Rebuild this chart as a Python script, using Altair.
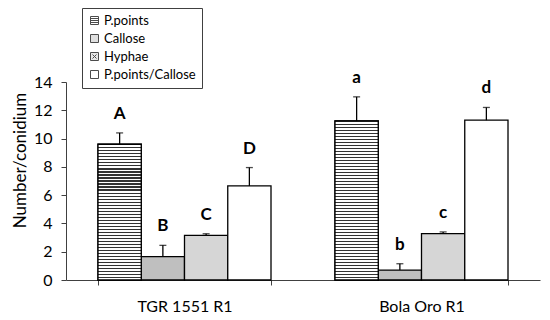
import altair as alt
import pandas as pd

cultivars = ["TGR 1551 R1", "Bola Oro R1"]
series = ["P.points", "Callose", "Hyphae", "P.points/Callose"]
ppoints = [9.6, 11.25]
ppoints_err = [0.8, 1.7]
callose = [1.65, 0.7]
callose_err = [0.8, 0.45]
hyphae = [3.15, 3.28]
hyphae_err = [0.12, 0.12]
ratio = [6.65, 11.3]
ratio_err = [1.3, 0.9]
letters = [["A", "B", "C", "D"], ["a", "b", "c", "d"]]

vals = [ppoints, callose, hyphae, ratio]
errs = [ppoints_err, callose_err, hyphae_err, ratio_err]
rows = []
for ci, c in enumerate(cultivars):
    for si, s in enumerate(series):
        rows.append({"cultivar": c, "series": s, "value": vals[si][ci],
                     "err": errs[si][ci], "letter": letters[ci][si]})
df = pd.DataFrame(rows)

W, H = 474, 198
YMAX = 14
FONT = "Lato"

fills = ["white", "#bfbfbf", "#d6d6d6", "white"]

x_enc = alt.X("cultivar:N", sort=cultivars,
              scale=alt.Scale(paddingInner=0.27, paddingOuter=0.135),
              axis=alt.Axis(title=None, labelAngle=0, tickBand="extent", tickSize=5,
                            labelPadding=13, labelFontSize=16, labelFont=FONT,
                            labelColor="black", domainColor="#404040", tickColor="#404040"))
xo_enc = alt.XOffset("series:N", sort=series,
                     scale=alt.Scale(domain=series, paddingInner=0, paddingOuter=0))
y_scale = alt.Scale(domain=[0, YMAX], nice=False)
y_axis = alt.Axis(values=list(range(0, 15, 2)), grid=False, tickSize=5,
                  labelOverlap=False,
                  labelPadding=9, labelFontSize=16, labelFont=FONT,
                  labelColor="black", domainColor="#404040", tickColor="#404040",
                  title="Number/conidium", titleFontSize=17, titleFont=FONT,
                  titleFontWeight="normal", titleColor="black",
                  titleX=-41, titleY=78, titleAngle=-90, titleAlign="center",
                  titleBaseline="alphabetic")
y_enc = alt.Y("value:Q", scale=y_scale, axis=y_axis)
y_top = alt.Y("top:Q", scale=y_scale, axis=y_axis)

base = alt.Chart(df)

bars = base.mark_bar(stroke="black", strokeWidth=1.3).encode(
    x=x_enc, xOffset=xo_enc, y=y_enc,
    fill=alt.Fill("series:N", scale=alt.Scale(domain=series, range=fills), legend=None),
)


def stripes(n):
    stops = []
    for i in range(n):
        a = i / n
        b = (i + 0.38) / n
        stops += [alt.GradientStop(offset=a, color="#333333"),
                  alt.GradientStop(offset=b, color="#333333"),
                  alt.GradientStop(offset=b, color="white"),
                  alt.GradientStop(offset=(i + 1) / n, color="white")]
    return alt.LinearGradient(gradient="linear", stops=stops, x1=0, y1=0, x2=0, y2=1)


stripe_layers = []
for ci, c in enumerate(cultivars):
    n = max(1, round(ppoints[ci] * H / YMAX / 3))
    stripe_layers.append(
        base.transform_filter((alt.datum.series == "P.points") & (alt.datum.cultivar == c))
        .mark_bar(fill=stripes(n), stroke="black", strokeWidth=1.3)
        .encode(x=x_enc, xOffset=xo_enc, y=y_enc)
    )

err_base = base.transform_calculate(top="datum.value + datum.err")
rules = err_base.mark_rule(color="black", strokeWidth=1.3).encode(
    x=x_enc, xOffset=xo_enc, y=y_enc, y2="top:Q")
caps = err_base.mark_tick(color="black", size=7, thickness=1.3, orient="horizontal").encode(
    x=x_enc, xOffset=xo_enc, y=y_top)
texts = err_base.mark_text(dy=-14, baseline="alphabetic", fontSize=17, fontWeight="bold",
                           font=FONT, color="black").encode(
    x=x_enc, xOffset=xo_enc, y=y_top, text="letter:N")

sq = "M-1,-1H1V1H-1Z"
shapes = [sq + "M-1,-0.5H1M-1,0H1M-1,0.5H1", sq,
          sq + "M-0.5,-0.5L0.5,0.5M0.5,-0.5L-0.5,0.5", sq]
legend_fills = ["white", "#bfbfbf", "#d0d0d0", "white"]
legend_layer = base.transform_filter("false").mark_point(
    filled=True, strokeWidth=1).encode(
    fill=alt.Fill("series:N", scale=alt.Scale(domain=series, range=legend_fills), title=None),
    shape=alt.Shape("series:N", scale=alt.Scale(domain=series, range=shapes), title=None),
    stroke=alt.Stroke("series:N", scale=alt.Scale(domain=series, range=["black"] * 4), title=None),
)

chart = alt.layer(bars, *stripe_layers, rules, caps, texts, legend_layer).resolve_scale(
    fill="independent", shape="independent", stroke="independent"
).properties(
    width=W, height=H,
    autosize=alt.AutoSizeParams(type="none"),
    padding={"left": 58, "top": 74, "right": 2, "bottom": 38},
).configure_view(stroke=None).configure_legend(
    orient="none", legendX=16, legendY=-74, strokeColor="#404040", fillColor="white",
    padding=6, rowPadding=4, symbolSize=64, symbolStrokeColor="black", symbolStrokeWidth=1,
    labelFontSize=13, labelFont=FONT, labelColor="black", labelOffset=3,
)

chart.save("out.html", embed_options={"renderer": "svg", "actions": False})
